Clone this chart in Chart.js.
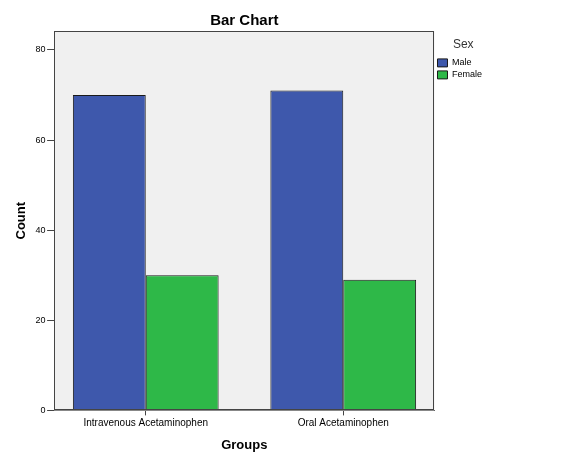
<!DOCTYPE html>
<html>
<head>
<meta charset="utf-8">
<script src="https://cdn.jsdelivr.net/npm/chart.js@4/dist/chart.umd.min.js"></script>
<style>
  html, body { margin: 0; padding: 0; background: #fff; }
  #wrap { width: 580px; height: 464px; }
</style>
</head>
<body>
<div id="wrap"><canvas id="c" width="580" height="464"></canvas></div>
<script>
const categories = ["Intravenous Acetaminophen", "Oral Acetaminophen"];
const seriesNames = ["Male", "Female"];
const maleCounts = [70, 71];
const femaleCounts = [30, 29];
const yTicks = [0, 20, 40, 60, 80];

const FONT = "'Liberation Sans', Arial, sans-serif";

const framePlugin = {
  id: 'frame',
  beforeDatasetsDraw(chart) {
    const a = chart.chartArea, ctx = chart.ctx;
    ctx.save();
    ctx.fillStyle = '#f0f0f0';
    ctx.fillRect(a.left, a.top, a.right - a.left, a.bottom - a.top);
    ctx.restore();
  },
  afterDatasetsDraw(chart) {
    const a = chart.chartArea, ctx = chart.ctx;
    ctx.save();
    ctx.strokeStyle = '#444';
    ctx.lineWidth = 1;
    ctx.strokeRect(Math.round(a.left) + 0.5, Math.round(a.top) + 0.5,
                   Math.round(a.right - a.left) - 1, Math.round(a.bottom - a.top) - 1);
    ctx.restore();
  }
};

new Chart(document.getElementById('c'), {
  type: 'bar',
  data: {
    datasets: [
      { label: seriesNames[0], data: maleCounts.map((v, i) => ({ x: i, y: v })),
        backgroundColor: '#3e58ac', borderColor: '#1a1a1a', borderWidth: 1 },
      { label: seriesNames[1], data: femaleCounts.map((v, i) => ({ x: i, y: v })),
        backgroundColor: '#2eb848', borderColor: '#1a1a1a', borderWidth: 1 }
    ]
  },
  options: {
    responsive: false,
    animation: false,
    devicePixelRatio: 1,
    categoryPercentage: 0.738,
    barPercentage: 1.0,
    layout: { padding: { left: 14, right: 88, top: 0, bottom: 11 } },
    plugins: {
      title: {
        display: true, text: 'Bar Chart', fullSize: false,
        font: { family: FONT, size: 15, weight: 'bold' }, color: '#000',
        padding: { top: 12, bottom: 1 }
      },
      legend: {
        position: 'right', align: 'start',
        title: { display: true, text: 'Sex', position: 'center', color: '#333',
                 font: { family: FONT, size: 12 }, padding: { top: 39, bottom: 2 } },
        labels: { boxWidth: 10, boxHeight: 8, padding: 3, color: '#000',
                  font: { family: FONT, size: 9 } }
      },
      tooltip: { enabled: false }
    },
    scales: {
      x: {
        type: 'linear', min: -0.464, max: 1.462, offset: false,
        grid: { display: true, drawOnChartArea: false, offset: false, tickLength: 5, color: '#444' },
        border: { display: true, color: '#444' },
        ticks: { stepSize: 1, includeBounds: false, padding: 2, color: '#000',
                 font: { family: FONT, size: 10 }, maxRotation: 0,
                 callback: (v) => categories[v] !== undefined ? categories[v] : '' },
        title: { display: true, text: 'Groups', color: '#000',
                 font: { family: FONT, size: 13, weight: 'bold' }, padding: { top: 6, bottom: 0 } }
      },
      y: {
        min: 0, max: 84.2,
        afterBuildTicks: (s) => { s.ticks = yTicks.map(v => ({ value: v })); },
        grid: { display: true, drawOnChartArea: false, tickLength: 7, color: '#444' },
        border: { display: true, color: '#444' },
        ticks: { padding: 1.5, color: '#000', font: { family: FONT, size: 9 } },
        title: { display: true, text: 'Count', color: '#000',
                 font: { family: FONT, size: 13, weight: 'bold' }, padding: { top: 0, bottom: 4.5 } }
      }
    }
  },
  plugins: [framePlugin]
});
</script>
</body>
</html>
